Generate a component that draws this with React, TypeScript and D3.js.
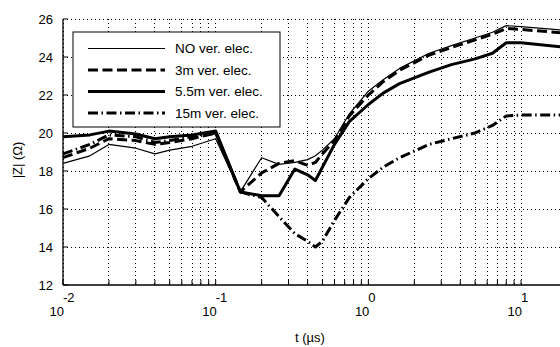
import React from 'react';
import * as d3 from 'd3';

// sample times (µs) shared by every curve
const tValues = [0.01, 0.015, 0.02, 0.03, 0.04, 0.05, 0.07, 0.1, 0.145, 0.2, 0.26, 0.33, 0.4, 0.45, 0.5, 0.6, 0.75, 1.0, 1.25, 1.6, 2.5, 3.5, 5, 6.5, 8, 10, 20];

// |Z| in ohms, one array per electrode case
const noElec = [18.4, 18.8, 19.4, 19.2, 18.9, 19.1, 19.3, 19.7, 16.9, 18.7, 18.35, 18.45, 18.6, 18.8, 19.1, 19.7, 21.0, 22.2, 22.8, 23.4, 24.2, 24.6, 25.0, 25.3, 25.65, 25.6, 25.4];
const elec3m = [18.7, 19.2, 19.7, 19.6, 19.4, 19.5, 19.7, 20.0, 16.9, 17.9, 18.4, 18.55, 18.3, 18.45, 18.9, 19.6, 20.9, 22.0, 22.7, 23.3, 24.1, 24.5, 24.9, 25.2, 25.5, 25.45, 25.25];
const elec55m = [19.8, 19.9, 20.1, 19.95, 19.7, 19.8, 19.9, 20.1, 16.9, 16.7, 16.7, 18.1, 17.8, 17.5, 18.2, 19.4, 20.6, 21.5, 22.1, 22.6, 23.2, 23.6, 23.9, 24.2, 24.75, 24.75, 24.5];
const elec15m = [18.9, 19.4, 19.9, 19.8, 19.5, 19.6, 19.8, 20.0, 16.9, 16.6, 15.6, 14.7, 14.3, 14.0, 14.3, 15.4, 16.6, 17.6, 18.2, 18.7, 19.4, 19.7, 20.0, 20.4, 20.9, 20.95, 20.95];

const legendLabels = ['NO ver. elec.', '3m ver. elec.', '5.5m ver. elec.', '15m ver. elec.'];
const yTicks = [12, 14, 16, 18, 20, 22, 24, 26];
const xDecades = [-2, -1, 0, 1];

// line styles in legend order
const styles = [
  { width: 1.2, dash: null },
  { width: 3, dash: '10,4.5' },
  { width: 3, dash: null },
  { width: 3, dash: '10,3.5,1.5,3.5' },
];

export default function App() {
  // chart setup
  const W = 560, H = 347;
  const left = 63, right = 567, top = 19, bottom = 285;

  const x = d3.scaleLog().domain([0.01, 20]).range([left, right]);
  const y = d3.scaleLinear().domain([12, 26]).range([bottom, top]);

  const series = [noElec, elec3m, elec55m, elec15m];
  const line = d3.line<number>()
    .x((d, i) => x(tValues[i]))
    .y(d => y(d));

  // every minor/major tick position on the log axis
  const minor: number[] = [];
  xDecades.forEach(dec => {
    for (let k = 1; k <= 9; k++) {
      const v = k * Math.pow(10, dec);
      if (v <= 20) minor.push(v);
    }
  });

  const font = '"Liberation Sans", Arial, sans-serif';

  return (
    <svg width={W} height={H} style={{ position: 'absolute', left: 0, top: 0, background: '#fff' }} fontFamily={font}>
      <rect x={0} y={0} width={W} height={H} fill="#fff" />

      {/* grid */}
      {minor.map((v, i) => (
        <line key={'vg' + i} x1={x(v)} x2={x(v)} y1={top} y2={bottom}
              stroke="#000" strokeWidth={1} strokeDasharray="1,3" shapeRendering="crispEdges" />
      ))}
      {yTicks.slice(1).map(v => (
        <line key={'hg' + v} x1={left} x2={W} y1={y(v)} y2={y(v)}
              stroke="#000" strokeWidth={1} strokeDasharray="1,3" shapeRendering="crispEdges" />
      ))}

      {/* axes */}
      <line x1={left} x2={left} y1={top} y2={bottom} stroke="#000" strokeWidth={1.3} />
      <line x1={left} x2={W} y1={bottom} y2={bottom} stroke="#000" strokeWidth={1.3} />
      {yTicks.map(v => (
        <g key={'yt' + v}>
          <line x1={left} x2={left + 5} y1={y(v)} y2={y(v)} stroke="#000" />
          <text x={53} y={y(v)} dy="0.35em" textAnchor="end" fontSize={13}>{v}</text>
        </g>
      ))}
      {minor.map((v, i) => (
        <line key={'xt' + i} x1={x(v)} x2={x(v)} y1={bottom} y2={bottom - 5} stroke="#000" />
      ))}
      {xDecades.map(dec => {
        const px = x(Math.pow(10, dec));
        return (
          <g key={'xl' + dec}>
            <text x={px + 1} y={316} textAnchor="end" fontSize={13}>10</text>
            <text x={px} y={302} textAnchor="start" fontSize={13}>{dec}</text>
          </g>
        );
      })}
      <text x={310} y={342} textAnchor="middle" fontSize={13}>t (µs)</text>
      <text transform="translate(22,160) rotate(-90)" textAnchor="middle" fontSize={13}>|Z| (Ω)</text>

      {/* curves */}
      {series.map((s, i) => (
        <path key={'s' + i} d={line(s) || ''} fill="none" stroke="#000"
              strokeWidth={styles[i].width} strokeDasharray={styles[i].dash || undefined}
              strokeLinejoin="round" />
      ))}

      {/* legend */}
      <rect x={73} y={32} width={207} height={95} fill="#fff" stroke="#000" strokeWidth={1} />
      {legendLabels.map((lab, i) => {
        const ly = 48.5 + i * 21.5;
        return (
          <g key={'lg' + i}>
            <line x1={88} x2={165} y1={ly} y2={ly} stroke="#000"
                  strokeWidth={styles[i].width} strokeDasharray={styles[i].dash || undefined} />
            <text x={175} y={ly} dy="0.35em" fontSize={13.5}>{lab}</text>
          </g>
        );
      })}
    </svg>
  );
}
